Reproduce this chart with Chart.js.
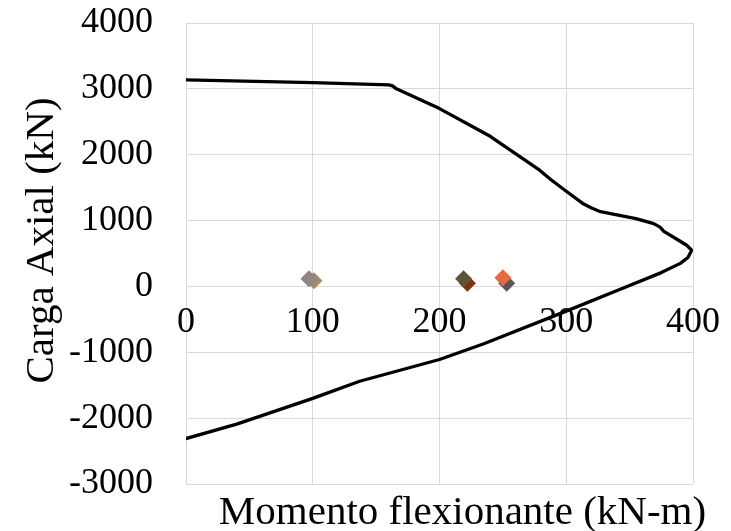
<!DOCTYPE html>
<html>
<head>
<meta charset="utf-8">
<script src="https://cdn.jsdelivr.net/npm/chart.js"></script>
<style>
  body { margin: 0; background: #fff; }
</style>
</head>
<body>
<canvas id="chart-interaction" width="731" height="531"></canvas>
<script>
// diagrama de interaccion: momento (kN-m) vs carga axial (kN)
const curveMoment = [0, 100, 160, 163, 166, 200, 240, 279, 288, 300, 313, 320, 327, 335, 355, 369, 374, 377, 387, 395, 399, 396, 390, 375, 348, 300, 235, 200, 137, 100, 40, 0]
const curveAxial = [3135, 3095, 3060, 3045, 3000, 2700, 2280, 1765, 1620, 1445, 1260, 1190, 1135, 1105, 1030, 954, 900, 835, 720, 625, 550, 440, 350, 210, 0, -375, -870, -1110, -1440, -1700, -2090, -2310]

// puntos de demanda (primero queda arriba)
const demandMoment = [97, 101, 219, 222, 250, 253]
const demandAxial = [115, 85, 117, 50, 130, 50]
const demandColors = ['#8f8689', '#a68c62', '#5d5539', '#84300e', '#e86a3a', '#605459']

const xTicks = [0, 100, 200, 300, 400]
const yTicks = [-3000, -2000, -1000, 0, 1000, 2000, 3000, 4000]

const xTitle = 'Momento flexionante (kN-m)'
const yTitle = 'Carga Axial (kN)'

const fontFamily = '"Liberation Serif", "Times New Roman", serif'
const gridColor = '#d9d9d9'

const datasets = demandMoment.map((m, i) => ({
    type: 'scatter',
    data: [{ x: m, y: demandAxial[i] }],
    pointStyle: 'rectRot',
    pointRadius: 8.5,
    pointBorderWidth: 0,
    backgroundColor: demandColors[i],
    borderColor: demandColors[i],
}))

datasets.push({
    type: 'scatter',
    data: curveMoment.map((m, i) => ({ x: m, y: curveAxial[i] })),
    showLine: true,
    borderColor: '#000',
    borderWidth: 3.3,
    pointRadius: 0,
    tension: 0,
    borderJoinStyle: 'round',
    borderCapStyle: 'round',
})

const axisTitles = {
    id: 'axisTitles',
    afterDraw(chart) {
        const { ctx, chartArea } = chart
        ctx.save()
        ctx.fillStyle = '#000'
        ctx.font = `41px ${fontFamily}`
        ctx.textAlign = 'center'
        ctx.textBaseline = 'middle'
        ctx.fillText(xTitle, chartArea.left + chartArea.width / 2 + 23, chartArea.bottom + 29)
        ctx.translate(42, chartArea.top + chartArea.height / 2 - 13)
        ctx.rotate(-Math.PI / 2)
        ctx.fillText(yTitle, 0, 0)
        ctx.restore()
    }
}

// sin relleno extra de las etiquetas: el area del grafico la fija layout.padding
function noPadding(scale) {
    scale.paddingTop = 0
    scale.paddingBottom = 0
    scale.paddingLeft = 0
    scale.paddingRight = 0
}

const ctx = document.getElementById('chart-interaction').getContext('2d')

const chart = new Chart(ctx, {
    data: { datasets },
    options: {
        responsive: false,
        animation: false,
        layout: {
            padding: { top: 23, right: 38, bottom: 47, left: 0 }
        },
        plugins: {
            legend: { display: false },
            tooltip: { enabled: false }
        },
        scales: {
            x: {
                type: 'linear',
                position: 'bottom',
                min: 0,
                max: 400,
                afterBuildTicks: (scale) => { scale.ticks = xTicks.map(v => ({ value: v })) },
                afterFit: (scale) => { scale.height = 0; noPadding(scale) },
                ticks: { display: false },
                grid: { color: gridColor, lineWidth: 1, drawTicks: false },
                border: { display: false }
            },
            x2: {
                type: 'linear',
                position: { y: 0 },
                min: 0,
                max: 400,
                afterBuildTicks: (scale) => { scale.ticks = xTicks.map(v => ({ value: v })) },
                afterFit: noPadding,
                ticks: {
                    color: '#000',
                    padding: 15,
                    maxRotation: 0,
                    autoSkip: false,
                    callback: (v) => String(v),
                    font: { family: fontFamily, size: 36 }
                },
                grid: { display: false, drawTicks: false },
                border: { display: false }
            },
            y: {
                type: 'linear',
                min: -3000,
                max: 4000,
                afterBuildTicks: (scale) => { scale.ticks = yTicks.map(v => ({ value: v })) },
                afterFit: (scale) => { scale.width = 186; noPadding(scale) },
                ticks: {
                    color: '#000',
                    padding: 33,
                    autoSkip: false,
                    callback: (v) => String(v),
                    font: { family: fontFamily, size: 36 }
                },
                grid: { color: gridColor, lineWidth: 1, drawTicks: false },
                border: { display: false }
            }
        }
    },
    plugins: [axisTitles]
})
</script>
</body>
</html>
